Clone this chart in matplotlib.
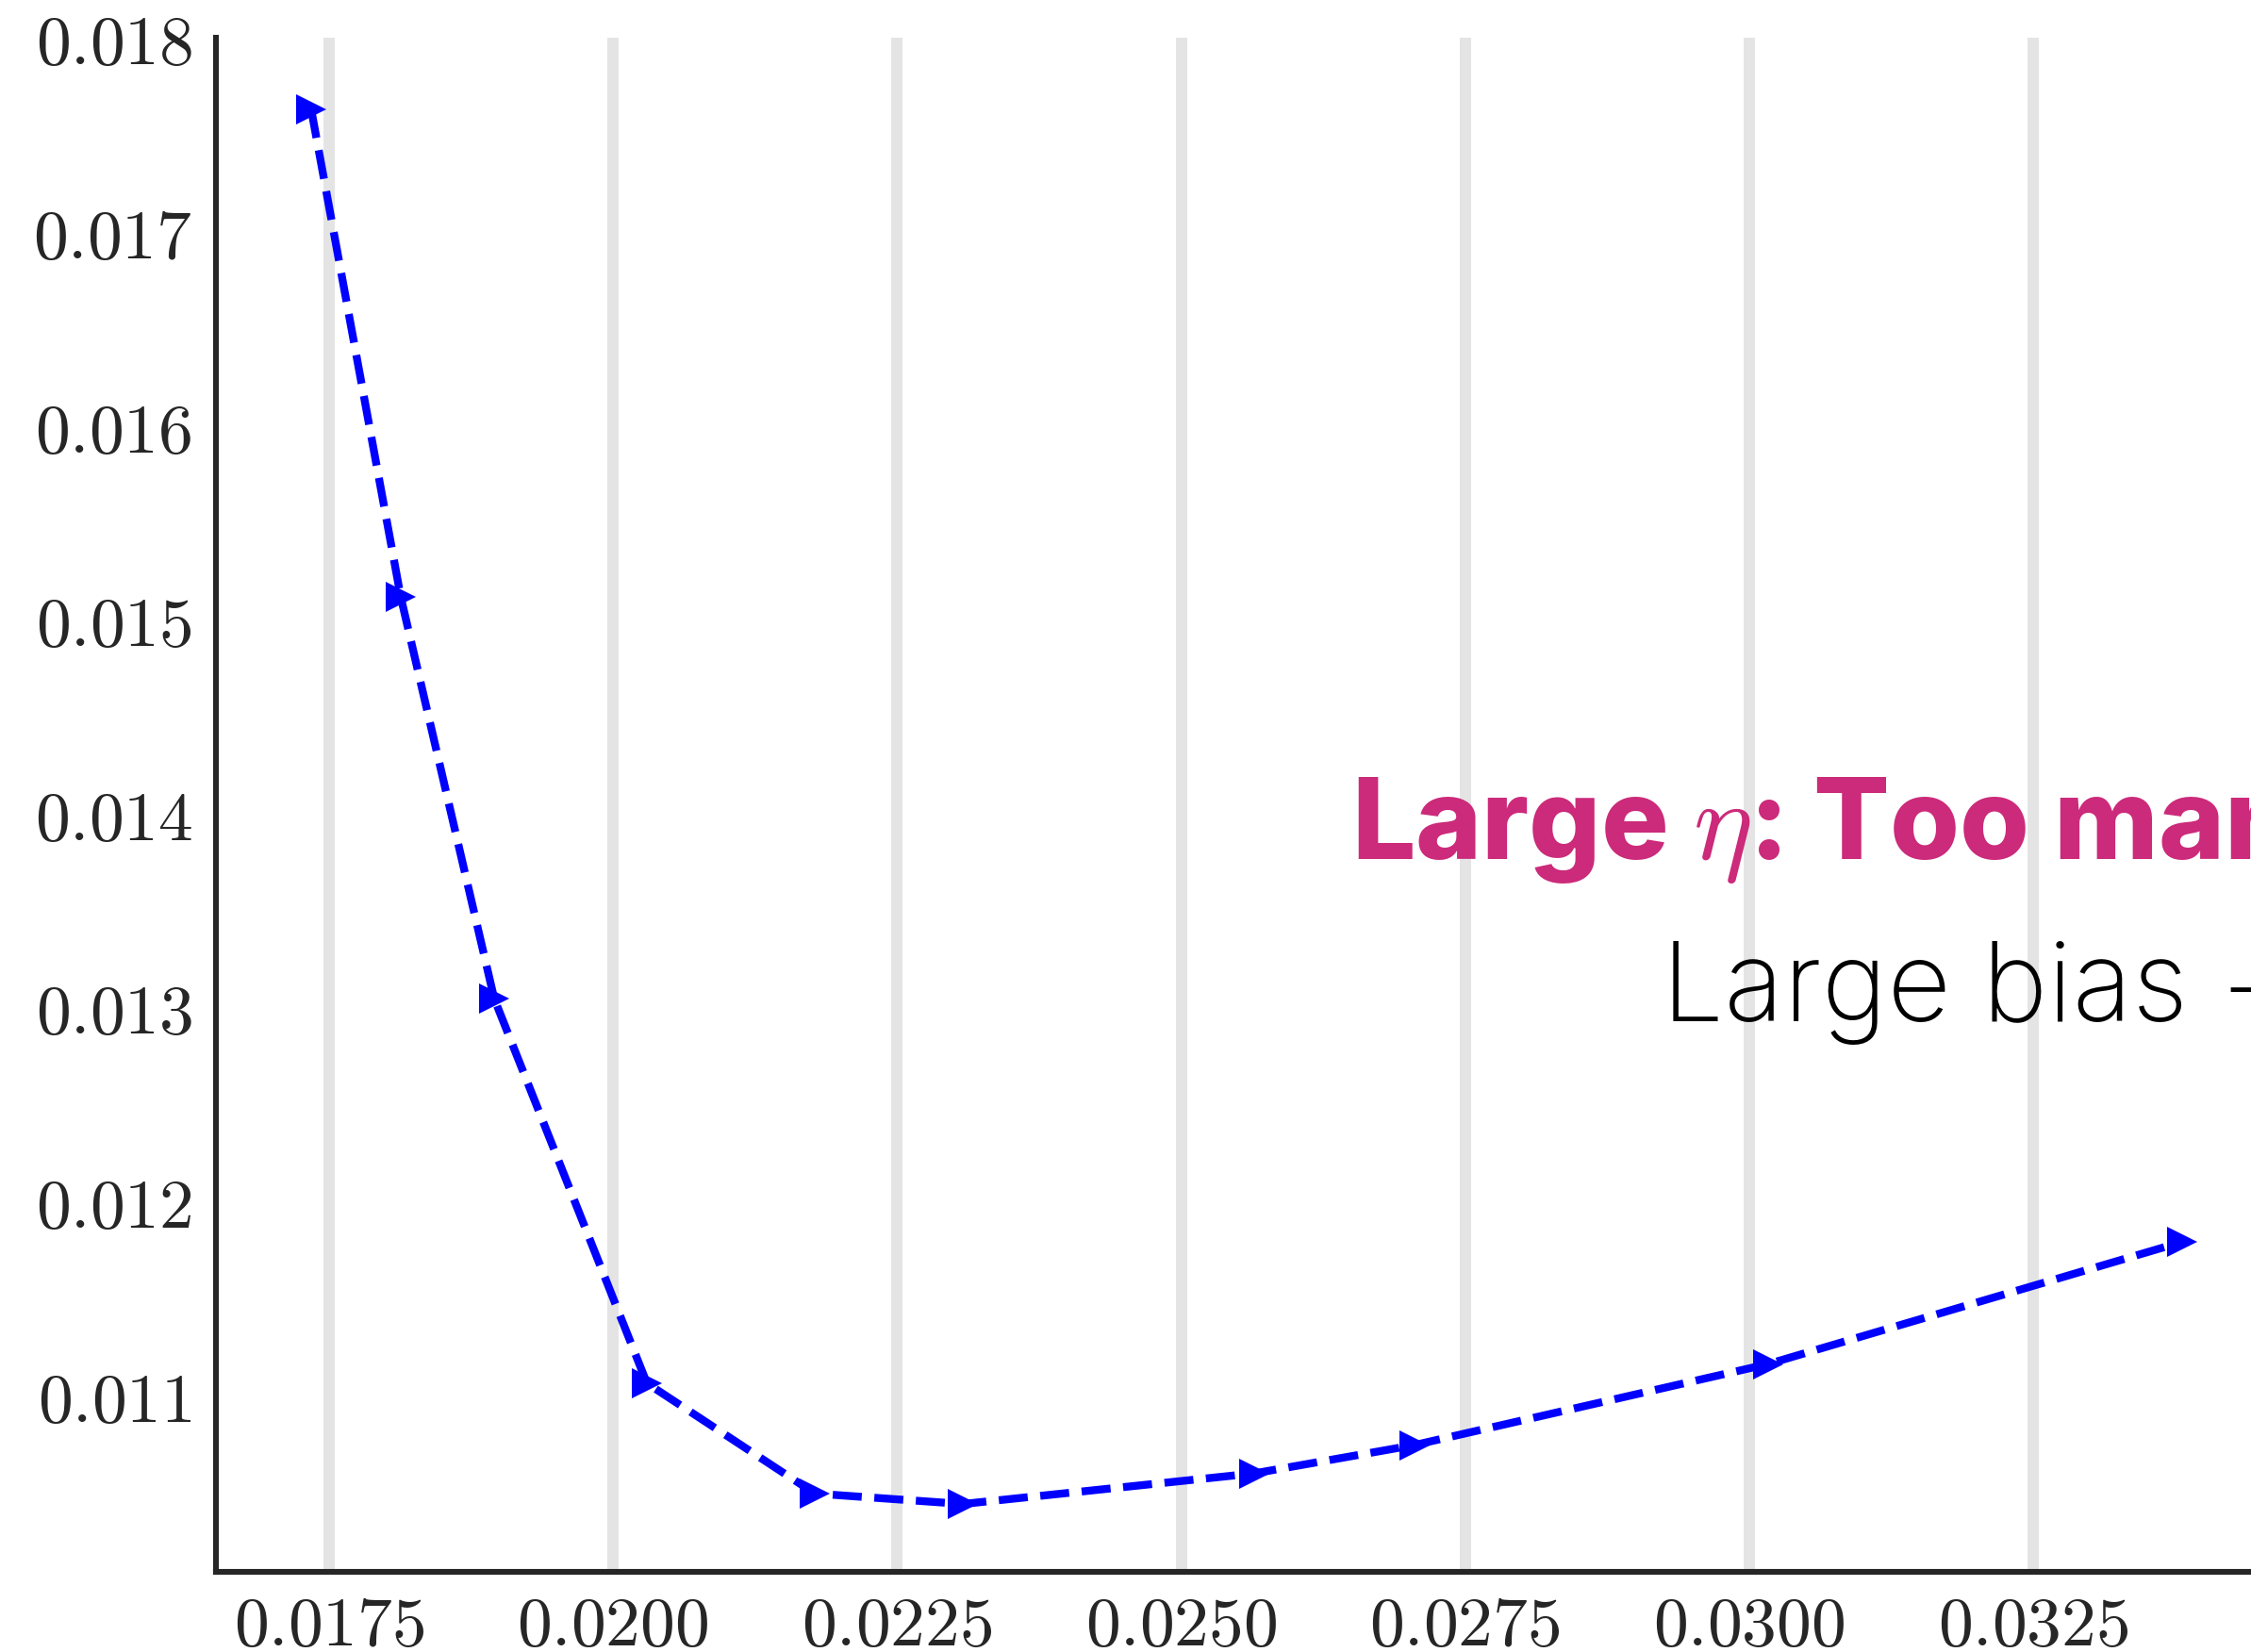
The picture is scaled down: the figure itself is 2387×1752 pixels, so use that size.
import matplotlib
matplotlib.use("Agg")
import matplotlib.pyplot as plt
from matplotlib.transforms import ScaledTranslation

# Step size vs. error along the sweep
step_size = [0.017342, 0.018131, 0.018953, 0.020297, 0.021775,
             0.023078, 0.025642, 0.027053, 0.030166, 0.03381]
error = [0.017655, 0.015138, 0.013068, 0.011084, 0.010515,
         0.010461, 0.010619, 0.010765, 0.011183, 0.011813]

x_ticks = [0.0175, 0.0200, 0.0225, 0.0250, 0.0275, 0.0300, 0.0325]
x_tick_labels = ["0.0175", "0.0200", "0.0225", "0.0250", "0.0275", "0.0300", "0.0325"]
y_ticks = [0.011, 0.012, 0.013, 0.014, 0.015, 0.016, 0.017, 0.018]
y_tick_labels = ["0.011", "0.012", "0.013", "0.014", "0.015", "0.016", "0.017", "0.018"]

headline = r"Large $\eta$: Too many steps"
subline = "Large bias + small variance"

plt.rcParams["mathtext.fontset"] = "cm"

W, H, DPI = 2387, 1752, 200
fig = plt.figure(figsize=(W / DPI, H / DPI), dpi=DPI)
fig.patch.set_facecolor("white")

# axes frame in pixels: left 229, top 40, bottom 1667, right runs past the canvas
left_px, top_px, bottom_px, right_px = 229, 40, 1667, 2800
ax = fig.add_axes([left_px / W, 1 - bottom_px / H,
                   (right_px - left_px) / W, (bottom_px - top_px) / H])
ax.set_facecolor("white")

ax.set_xlim(0.016504, 0.0175 + (right_px - 349) / 120.48 * 0.001)
ax.set_ylim(0.010111, 0.018024)

ax.set_xticks(x_ticks)
ax.set_xticklabels(["$" + t + "$" for t in x_tick_labels])
ax.set_yticks(y_ticks)
ax.set_yticklabels(["$" + t + "$" for t in y_tick_labels])
ax.tick_params(axis="both", length=0, labelsize=26.5, colors="#262626")
ax.tick_params(axis="x", pad=7.5)
ax.tick_params(axis="y", pad=9)
lift = ScaledTranslation(0, 5 / DPI, fig.dpi_scale_trans)
for lab in ax.get_yticklabels():
    lab.set_transform(lab.get_transform() + lift)

ax.xaxis.grid(True, color="#e4e4e4", linewidth=4.3, zorder=0)
ax.yaxis.grid(False)
ax.set_axisbelow(True)

for side in ("top", "right"):
    ax.spines[side].set_visible(False)
for side in ("left", "bottom"):
    ax.spines[side].set_color("#262626")
    ax.spines[side].set_linewidth(2.2)

ax.plot(step_size, error, linestyle="--", color="#0000ff", linewidth=3.0,
        marker=">", markersize=11.8, markeredgewidth=0, zorder=3)

fig.text(1433 / W, 1 - 911 / H, headline, color="#cc2a7a", fontsize=43,
         fontfamily="Inter", fontweight="heavy", ha="left", va="baseline")
fig.text(1762 / W, 1 - 1083 / H, subline, color="black", fontsize=42.3,
         fontfamily="Inter", fontweight="light", ha="left", va="baseline")

fig.savefig("out.png", dpi=DPI, facecolor="white")
